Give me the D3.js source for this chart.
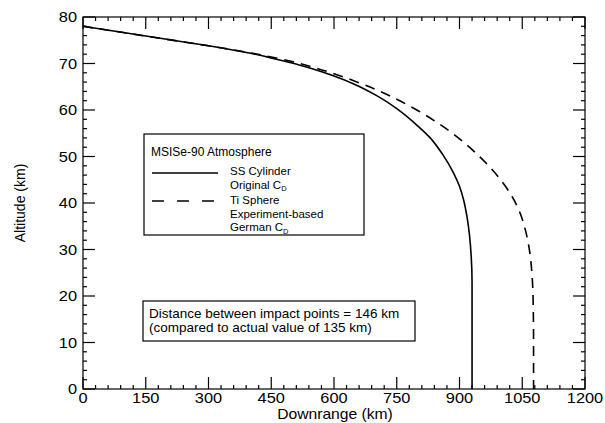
<!DOCTYPE html>
<html>
<head>
<meta charset="utf-8">
<script src="https://cdn.jsdelivr.net/npm/d3@7"></script>
<style>
  html, body { margin: 0; padding: 0; background: #fff; }
  svg { display: block; font-family: "Liberation Sans", Arial, Helvetica, sans-serif; }
</style>
</head>
<body>
<svg id="chart" width="605" height="423"></svg>
<script>
// ---- data ----
const xTicks = [0, 150, 300, 450, 600, 750, 900, 1050, 1200];
const yTicks = [0, 10, 20, 30, 40, 50, 60, 70, 80];
const ssCylDown = [0, 100, 200, 300, 400, 450, 500, 550, 600, 650, 700, 750, 800, 830, 860, 885, 900, 910, 918, 924, 928, 930, 930];
const ssCylAlt  = [78, 76.6, 75.2, 73.8, 72.2, 71.2, 70.1, 68.8, 67.3, 65.5, 63.2, 60.3, 56.6, 54.0, 50.4, 46.6, 43.6, 40.6, 37, 33, 28.5, 23, 0];
const tiSphDown = [0, 100, 200, 300, 400, 450, 500, 550, 600, 650, 700, 750, 800, 850, 900, 950, 1000, 1025, 1045, 1058, 1067, 1073, 1076, 1077, 1077];
const tiSphAlt  = [78, 76.6, 75.2, 73.8, 72.3, 71.4, 70.4, 69.2, 67.8, 66.2, 64.4, 62.3, 59.9, 57.1, 53.8, 49.8, 44.8, 41.5, 37.8, 34, 30, 25, 19, 10, 0];
const legendTitle = "MSISe-90 Atmosphere";
const noteLines = ["Distance between impact points = 146 km", "(compared to actual value of 135 km)"];

// ---- layout ----
const svg = d3.select("#chart");
const L = 83, R = 585, T = 17, B = 389;
const x = d3.scaleLinear().domain([0, 1200]).range([L, R]);
const y = d3.scaleLinear().domain([0, 80]).range([B, T]);
const minorX = d3.range(0, 1201, 30).filter(v => v % 150 !== 0);
const minorY = d3.range(0, 81, 2).filter(v => v % 10 !== 0);
const MAJ = 12, MIN = 4;

const g = svg.append("g");

// frame
g.append("rect").attr("x", L).attr("y", T).attr("width", R - L).attr("height", B - T)
  .attr("fill", "none").attr("stroke", "#000").attr("stroke-width", 1.2);

// ticks (inward, on all four sides)
function tickLines(vals, len, isX) {
  vals.forEach(v => {
    if (isX) {
      g.append("line").attr("x1", x(v)).attr("x2", x(v)).attr("y1", B).attr("y2", B - len).attr("stroke", "#000").attr("stroke-width", 1.2);
      g.append("line").attr("x1", x(v)).attr("x2", x(v)).attr("y1", T).attr("y2", T + len).attr("stroke", "#000").attr("stroke-width", 1.2);
    } else {
      g.append("line").attr("y1", y(v)).attr("y2", y(v)).attr("x1", L).attr("x2", L + len).attr("stroke", "#000").attr("stroke-width", 1.2);
      g.append("line").attr("y1", y(v)).attr("y2", y(v)).attr("x1", R).attr("x2", R - len).attr("stroke", "#000").attr("stroke-width", 1.2);
    }
  });
}
tickLines(xTicks, MAJ, true);
tickLines(minorX, MIN, true);
tickLines(yTicks, MAJ, false);
tickLines(minorY, MIN, false);

// tick labels (slightly widened, like the reference's wide face)
const SX = 1.13;
g.selectAll(".xl").data(xTicks).enter().append("text")
  .attr("transform", d => `translate(${x(d)},${B + 14}) scale(${SX},1)`)
  .attr("text-anchor", "middle").attr("font-size", 14.5).text(d => d);
g.selectAll(".yl").data(yTicks).enter().append("text")
  .attr("transform", d => `translate(${L - 6},${y(d) + 5}) scale(${SX},1)`)
  .attr("text-anchor", "end").attr("font-size", 14.5).text(d => d);

// axis titles
g.append("text").attr("transform", `translate(${(L + R) / 2 + 1},419) scale(1.08,1)`).attr("text-anchor", "middle")
  .attr("font-size", 14.5).text("Downrange (km)");
g.append("text").attr("transform", `translate(25,${(T + B) / 2}) rotate(-90)`)
  .attr("text-anchor", "middle").attr("font-size", 14).text("Altitude (km)");

// curves
const line = d3.line().x(d => x(d[0])).y(d => y(d[1])).curve(d3.curveMonotoneY);
g.append("path").datum(ssCylDown.map((d, i) => [d, ssCylAlt[i]]))
  .attr("d", line).attr("fill", "none").attr("stroke", "#000").attr("stroke-width", 1.6);
g.append("path").datum(tiSphDown.map((d, i) => [d, tiSphAlt[i]]))
  .attr("d", line).attr("fill", "none").attr("stroke", "#000").attr("stroke-width", 1.6)
  .attr("stroke-dasharray", "10,7");

// legend box
const lg = g.append("g");
const LF = 11.5;
lg.append("rect").attr("x", 144).attr("y", 134).attr("width", 220).attr("height", 101)
  .attr("fill", "#fff").attr("stroke", "#000").attr("stroke-width", 1.2);
lg.append("text").attr("x", 151).attr("y", 156).attr("font-size", 12).text(legendTitle);
lg.append("line").attr("x1", 152).attr("x2", 218).attr("y1", 173).attr("y2", 173)
  .attr("stroke", "#000").attr("stroke-width", 1.5);
lg.append("line").attr("x1", 152).attr("x2", 214).attr("y1", 201).attr("y2", 201)
  .attr("stroke", "#000").attr("stroke-width", 1.5).attr("stroke-dasharray", "12,13");
function cdText(txt, yy) {
  const t = lg.append("text").attr("x", 230).attr("y", yy).attr("font-size", LF);
  t.append("tspan").text(txt);
  t.append("tspan").attr("font-size", 7.5).attr("dy", 2.5).text("D");
}
lg.append("text").attr("x", 230).attr("y", 175).attr("font-size", LF).text("SS Cylinder");
cdText("Original C", 188.5);
lg.append("text").attr("x", 230).attr("y", 204).attr("font-size", LF).text("Ti Sphere");
lg.append("text").attr("x", 230).attr("y", 217.5).attr("font-size", LF).text("Experiment-based");
cdText("German C", 231);

// note box
const ng = g.append("g");
ng.append("rect").attr("x", 143).attr("y", 301).attr("width", 272).attr("height", 40)
  .attr("fill", "#fff").attr("stroke", "#000").attr("stroke-width", 1.2);
ng.selectAll("text").data(noteLines).enter().append("text")
  .attr("x", 149).attr("y", (d, i) => 318 + i * 13.5).attr("font-size", 13.5).text(d => d);
</script>
</body>
</html>
